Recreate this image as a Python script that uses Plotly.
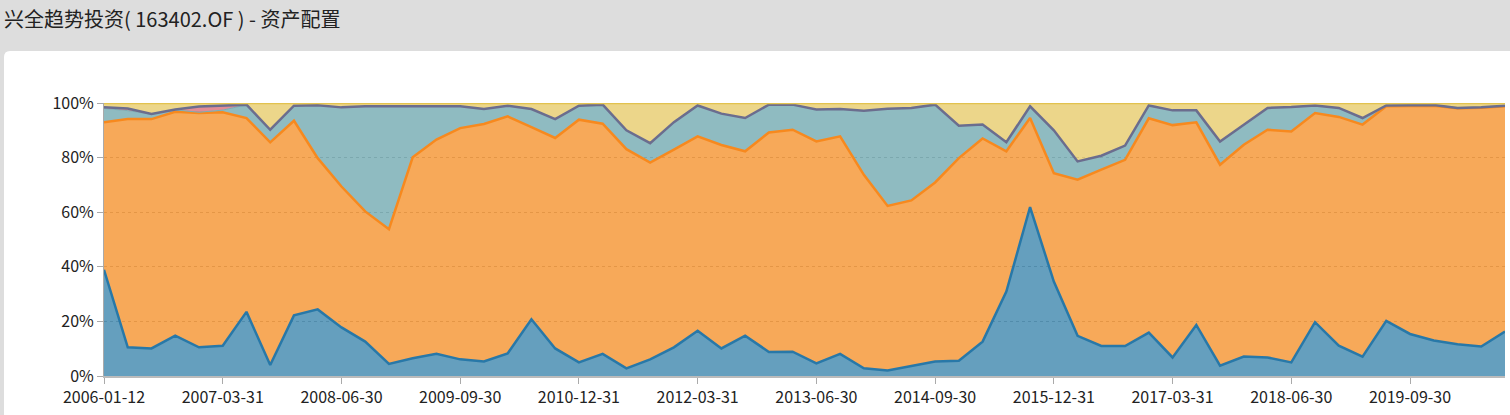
import plotly.graph_objects as go

# quarterly report dates (category axis)
dates = ["2006-01-12",
         "2006-03-31", "2006-06-30", "2006-09-30", "2006-12-31",
         "2007-03-31", "2007-06-30", "2007-09-30", "2007-12-31",
         "2008-03-31", "2008-06-30", "2008-09-30", "2008-12-31",
         "2009-03-31", "2009-06-30", "2009-09-30", "2009-12-31",
         "2010-03-31", "2010-06-30", "2010-09-30", "2010-12-31",
         "2011-03-31", "2011-06-30", "2011-09-30", "2011-12-31",
         "2012-03-31", "2012-06-30", "2012-09-30", "2012-12-31",
         "2013-03-31", "2013-06-30", "2013-09-30", "2013-12-31",
         "2014-03-31", "2014-06-30", "2014-09-30", "2014-12-31",
         "2015-03-31", "2015-06-30", "2015-09-30", "2015-12-31",
         "2016-03-31", "2016-06-30", "2016-09-30", "2016-12-31",
         "2017-03-31", "2017-06-30", "2017-09-30", "2017-12-31",
         "2018-03-31", "2018-06-30", "2018-09-30", "2018-12-31",
         "2019-03-31", "2019-06-30", "2019-09-30", "2019-12-31",
         "2020-03-31", "2020-06-30", "2020-09-30"]

# percent of net assets
stock = [38.9, 10.5, 10.1, 14.8, 10.5, 11.1, 23.5, 4.0, 22.2, 24.4,
         17.8, 12.6, 4.4, 6.5, 8.1, 6.1, 5.3, 8.3, 20.8, 10.1,
         5.0, 8.1, 2.8, 6.1, 10.5, 16.6, 10.1, 14.8, 8.8, 8.9,
         4.6, 8.1, 2.8, 2.0, 3.7, 5.3, 5.6, 12.6, 30.9, 61.9,
         34.6, 14.7, 11.0, 11.0, 15.9, 6.8, 18.7, 3.8, 7.1, 6.8,
         5.0, 19.7, 11.1, 7.1, 20.2, 15.4, 13.0, 11.6, 10.8, 16.3]
bond = [54.0, 83.6, 84.0, 82.0, 85.8, 85.5, 71.0, 81.6, 71.3, 55.4,
        51.6, 47.7, 49.4, 73.6, 78.5, 84.7, 87.0, 86.8, 70.4, 77.1,
        88.9, 84.3, 80.3, 72.1, 72.4, 71.2, 74.5, 67.5, 80.4, 81.3,
        81.3, 79.7, 70.9, 60.3, 60.6, 65.6, 74.2, 74.4, 51.4, 32.6,
        39.7, 57.2, 64.6, 68.2, 78.5, 85.1, 74.2, 73.6, 77.6, 83.4,
        84.6, 76.6, 83.8, 85.0, 78.6, 83.4, 86.0, 86.5, 87.5, 82.5]
cash = [5.1, 3.1, 1.8, 0.7, 0.3, 0.8, 4.8, 4.6, 5.5, 19.4,
        29.0, 38.5, 45.0, 18.7, 12.2, 8.0, 5.5, 3.9, 6.6, 6.9,
        5.1, 7.0, 6.9, 7.1, 10.1, 11.3, 11.5, 12.2, 10.2, 9.2,
        11.7, 10.0, 23.5, 35.6, 33.9, 28.5, 11.9, 5.1, 3.3, 4.3,
        15.7, 6.7, 5.1, 5.2, 4.7, 5.4, 4.4, 8.5, 7.3, 8.0,
        8.9, 2.8, 3.3, 2.4, 0.3, 0.3, 0.3, 0.1, 0.1, 0.2]
fund = [0.4, 0.8, 0.1, 0.1, 2.1, 1.6, 0.1, 0, 0, 0,
        0, 0, 0, 0, 0, 0, 0, 0, 0, 0,
        0, 0, 0, 0, 0, 0, 0, 0, 0, 0,
        0, 0, 0, 0, 0, 0, 0, 0, 0, 0,
        0, 0, 0, 0, 0, 0, 0, 0, 0, 0,
        0, 0, 0, 0, 0, 0, 0, 0, 0, 0]
other = [1.6, 2.0, 4.0, 2.4, 1.3, 1.0, 0.6, 9.8, 1.0, 0.8,
         1.6, 1.2, 1.2, 1.2, 1.2, 1.2, 2.2, 1.0, 2.2, 5.9,
         1.0, 0.6, 10.0, 14.7, 7.0, 0.9, 3.9, 5.5, 0.6, 0.6,
         2.4, 2.2, 2.8, 2.1, 1.8, 0.6, 8.3, 7.9, 14.4, 1.2,
         10.0, 21.4, 19.3, 15.6, 0.9, 2.7, 2.7, 14.1, 8.0, 1.8,
         1.5, 0.9, 1.8, 5.5, 0.9, 0.9, 0.7, 1.8, 1.6, 1.0]

series = [
    ("股票", stock, "#2878a8", "rgba(36,118,162,0.7)", 2.5),
    ("债券", bond, "#f7891e", "rgba(244,132,19,0.7)", 2.5),
    ("现金", cash, "#79aeb6", "rgba(95,158,166,0.7)", 1),
    ("基金", fund, "#6b6d8e", "rgba(212,91,105,0.7)", 2.5),
    ("其他", other, "#e2c24e", "rgba(228,196,88,0.7)", 2.5),
]

fig = go.Figure()
for name, vals, line_c, fill_c, w in series:
    fig.add_trace(go.Scatter(x=dates, y=vals, name=name, mode="lines",
                             stackgroup="one", line=dict(color=line_c, width=w),
                             fillcolor=fill_c))

# white card behind the chart (paper coords relative to plot area)
L, R, T, B = -100 / 1401, 1410 / 1401, 325 / 273, -50 / 273
rx, ry = 6 / 1401, 6 / 273
card = (f"M {L+rx},{T} L {R},{T} L {R},{B} L {L},{B} L {L},{T-ry} "
        f"Q {L},{T} {L+rx},{T} Z")

font = "Noto Sans CJK SC, Noto Sans, sans-serif"
fig.update_layout(
    width=1510, height=415,
    margin=dict(l=104, r=5, t=103, b=39),
    paper_bgcolor="#dddddd", plot_bgcolor="white",
    showlegend=False,
    font=dict(family=font, size=16, color="#222"),
    title=dict(text="兴全趋势投资( 163402.OF ) - 资产配置", xref="container",
               yref="container", x=4 / 1510, y=1 - 20 / 415, xanchor="left",
               yanchor="middle", font=dict(size=20, color="#222", family=font)),
    shapes=[dict(type="path", path=card, xref="paper", yref="paper",
                 fillcolor="white", line=dict(width=0), layer="below")],
    xaxis=dict(type="category", range=[0, len(dates) - 1],
               tickvals=dates[::5], ticks="outside", ticklen=6,
               tickcolor="#aaa", showline=True, linecolor="#bbb", linewidth=2,
               showgrid=False, zeroline=False, tickfont=dict(size=16)),
    yaxis=dict(range=[0, 100], dtick=20, ticksuffix="%", ticks="outside",
               ticklen=6, tickcolor="#aaa", showline=True, linecolor="#aaa",
               linewidth=1, showgrid=True, gridcolor="rgba(150,150,150,0.6)",
               griddash="dot", zeroline=False, tickfont=dict(size=16)),
)

fig.write_html("out.html", config={"displayModeBar": False},
               post_script="document.body.style.margin='0';"
                           "document.body.style.background='#dddddd';")
